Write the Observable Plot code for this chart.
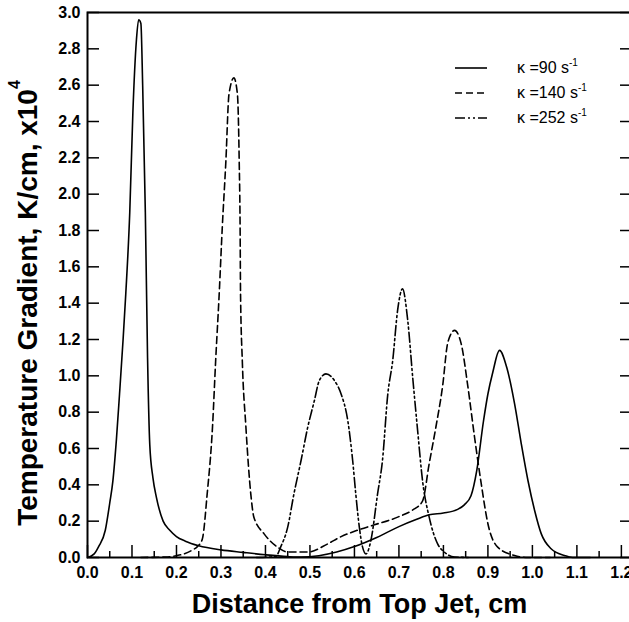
<!DOCTYPE html>
<html><head><meta charset="utf-8">
<script src="https://cdn.jsdelivr.net/npm/d3@7"></script>
<script src="https://cdn.jsdelivr.net/npm/@observablehq/plot@0.6"></script>
<style>
html,body{margin:0;padding:0;background:#fff;overflow:hidden;}
#chart{position:relative;width:629px;height:622px;overflow:hidden;}
#chart svg{max-width:none !important;}
</style></head><body><div id="chart"></div>
<script>
// ---- data ----
const seriesNames = ["κ =90 s", "κ =140 s", "κ =252 s"];
const seriesSup = "-1";

const x90 = [0, 0.015, 0.025, 0.04, 0.05, 0.057, 0.065, 0.072, 0.08, 0.086, 0.095, 0.102, 0.11, 0.115, 0.12, 0.124, 0.13, 0.135, 0.14, 0.147, 0.155, 0.17, 0.185, 0.2, 0.22, 0.25, 0.3, 0.35, 0.4, 0.45, 0.48, 0.52, 0.56, 0.6, 0.65, 0.7, 0.74, 0.768, 0.8, 0.832, 0.847, 0.862, 0.875, 0.89, 0.9, 0.911, 0.926, 0.943, 0.96, 0.975, 0.99, 1.005, 1.02, 1.042, 1.072, 1.09, 1.13];
const y90 = [0, 0.02, 0.06, 0.15, 0.3, 0.42, 0.65, 0.9, 1.2, 1.45, 1.9, 2.45, 2.85, 2.96, 2.94, 2.6, 1.9, 1.1, 0.62, 0.44, 0.33, 0.2, 0.15, 0.115, 0.09, 0.065, 0.042, 0.028, 0.015, 0.005, 0.002, 0.01, 0.03, 0.06, 0.11, 0.17, 0.21, 0.235, 0.245, 0.265, 0.29, 0.34, 0.48, 0.75, 0.9, 1.02, 1.14, 1.04, 0.846, 0.626, 0.424, 0.259, 0.13, 0.048, 0.011, 0, 0];

const x140 = [0.12, 0.18, 0.2, 0.217, 0.235, 0.247, 0.258, 0.269, 0.281, 0.288, 0.296, 0.303, 0.311, 0.318, 0.329, 0.337, 0.341, 0.343, 0.344, 0.348, 0.356, 0.367, 0.374, 0.397, 0.427, 0.45, 0.495, 0.54, 0.57, 0.607, 0.645, 0.7, 0.73, 0.753, 0.768, 0.783, 0.798, 0.81, 0.825, 0.84, 0.855, 0.87, 0.885, 0.9, 0.922, 0.96, 0.99, 1.04];
const y140 = [0, 0.003, 0.01, 0.02, 0.04, 0.06, 0.1, 0.35, 0.72, 1.08, 1.45, 1.82, 2.18, 2.55, 2.64, 2.55, 2.18, 1.82, 1.45, 1.08, 0.72, 0.35, 0.222, 0.13, 0.057, 0.03, 0.03, 0.075, 0.115, 0.15, 0.18, 0.225, 0.26, 0.31, 0.516, 0.717, 0.94, 1.185, 1.25, 1.176, 0.94, 0.662, 0.406, 0.186, 0.057, 0.011, 0, 0];

const x252 = [0.38, 0.423, 0.434, 0.45, 0.464, 0.48, 0.495, 0.51, 0.521, 0.536, 0.555, 0.57, 0.585, 0.596, 0.603, 0.611, 0.618, 0.626, 0.637, 0.652, 0.663, 0.675, 0.686, 0.697, 0.708, 0.72, 0.731, 0.742, 0.753, 0.768, 0.787, 0.802, 0.825, 0.86];
const y252 = [0, 0.005, 0.057, 0.167, 0.35, 0.534, 0.717, 0.864, 0.974, 1.011, 0.974, 0.9, 0.754, 0.534, 0.35, 0.167, 0.06, 0.02, 0.094, 0.35, 0.534, 0.9, 1.084, 1.36, 1.479, 1.3, 0.99, 0.7, 0.424, 0.222, 0.075, 0.03, 0.003, 0];

const xMajorTicks = [0, 0.1, 0.2, 0.3, 0.4, 0.5, 0.6, 0.7, 0.8, 0.9, 1.0, 1.1, 1.2];
const xMinorTicks = [0.05, 0.15, 0.25, 0.35, 0.45, 0.55, 0.65, 0.75, 0.85, 0.95, 1.05, 1.15];
const yTicks = [0, 0.2, 0.4, 0.6, 0.8, 1.0, 1.2, 1.4, 1.6, 1.8, 2.0, 2.2, 2.4, 2.6, 2.8, 3.0];
const xTitle = "Distance from Top Jet, cm";
const yTitle = "Temperature Gradient, K/cm, x10";
const yTitleSup = "4";

// ---- build ----
const xs = [x90, x140, x252], ys = [y90, y140, y252];
const rows = seriesNames.map((n, i) => xs[i].map((x, j) => ({series: n, x, y: ys[i][j]})));
const dash = ["none", "7,4", "10,3,2,3,2,3"];
const font = "'Liberation Sans', Arial, sans-serif";
const W = 640, H = 622;
const M = {left: 87, right: 8, top: 12, bottom: 65};
const PW = W - M.left - M.right, PH = H - M.top - M.bottom;
const TICK = 12, MINOR = 6;

const chart = Plot.plot({
  width: W, height: H,
  marginLeft: M.left, marginRight: M.right, marginTop: M.top, marginBottom: M.bottom,
  style: {fontFamily: font, background: "white", color: "black", overflow: "visible"},
  x: {domain: [0, 1.225]},
  y: {domain: [0, 3]},
  marks: [
    ...rows.map((r, i) => Plot.line(r, {x: "x", y: "y", stroke: "black", strokeWidth: 1.6, strokeDasharray: dash[i], curve: "monotone-x"})),
    Plot.axisY(yTicks, {anchor: "left", tickSize: 0, tickPadding: 7, tickFormat: d3.format(".1f"), fontSize: 16, fontWeight: "bold", label: null}),
    Plot.axisX(xMajorTicks, {anchor: "bottom", tickSize: 0, tickPadding: 9, tickFormat: d3.format(".1f"), fontSize: 16, fontWeight: "bold", label: null}),
    // inward ticks
    Plot.ruleY(yTicks, {insetRight: PW - TICK, stroke: "black", strokeWidth: 1.5}),
    Plot.ruleY(yTicks, {insetLeft: PW - TICK, stroke: "black", strokeWidth: 1.5}),
    Plot.ruleX(xMajorTicks, {insetTop: PH - TICK, stroke: "black", strokeWidth: 1.5}),
    Plot.ruleX(xMinorTicks, {insetTop: PH - MINOR, stroke: "black", strokeWidth: 1.5}),
    Plot.frame({stroke: "black", strokeWidth: 2})
  ]
});
chart.style.maxWidth = "none";
document.getElementById("chart").appendChild(chart);

const svg = d3.select(chart);
const xs_ = chart.scale("x");
// x title
const cx = (xs_.range[0] + xs_.range[1]) / 2;
svg.append("text").attr("x", cx).attr("y", 613).attr("text-anchor", "middle")
  .attr("font-family", font).attr("font-size", 27).attr("font-weight", "bold").attr("fill", "black").text(xTitle);
// y title
const yt = svg.append("text").attr("transform", "translate(37,303) rotate(-90)").attr("text-anchor", "middle")
  .attr("font-family", font).attr("font-size", 28).attr("font-weight", "bold").attr("fill", "black");
yt.append("tspan").text(yTitle);
yt.append("tspan").attr("font-size", 16).attr("dy", -17).text(yTitleSup);
// legend
const lg = svg.append("g").attr("font-family", font).attr("font-size", 16).attr("fill", "black").attr("text-anchor", "start");
seriesNames.forEach((n, i) => {
  const yy = 68 + i * 25;
  lg.append("line").attr("x1", 455).attr("x2", 487).attr("y1", yy).attr("y2", yy)
    .attr("stroke", "black").attr("stroke-width", 1.6).attr("stroke-dasharray", dash[i]);
  const t = lg.append("text").attr("x", 517).attr("y", yy + 5).attr("text-anchor", "start");
  t.append("tspan").text(n);
  t.append("tspan").attr("font-size", 10).attr("dy", -7).text(seriesSup);
});
</script></body></html>
